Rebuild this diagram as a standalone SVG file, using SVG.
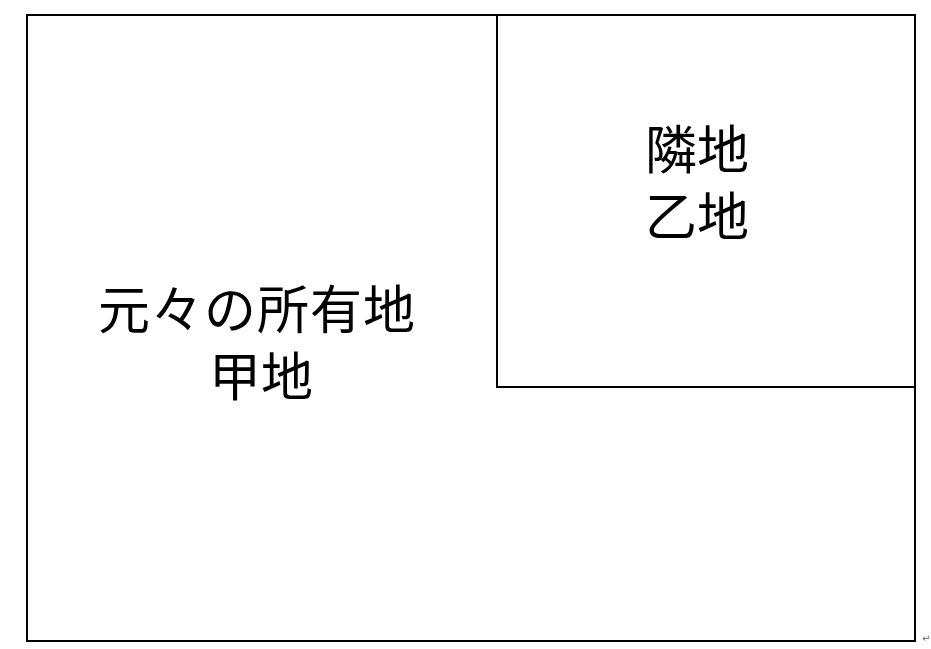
<svg xmlns="http://www.w3.org/2000/svg" width="931" height="649" viewBox="0 0 931 649">
<style>
.plot{fill:none;stroke:#000;stroke-width:2}
.lbl{font-family:"Noto Sans CJK JP","Noto Sans CJK SC",sans-serif;font-size:52px;fill:#000;text-anchor:middle}
.mark{font-family:"DejaVu Sans",sans-serif;font-size:10px;fill:#666}
</style>
<rect width="931" height="649" fill="#fff"/>
<g id="kouchi">
<rect class="plot" x="27" y="15" width="888" height="626"/>
<text class="lbl"><tspan x="257" y="329" letter-spacing="1">元々の所有地</tspan><tspan x="261" y="396">甲地</tspan></text>
</g>
<g id="otsuchi">
<rect class="plot" x="497" y="15" width="418" height="372"/>
<text class="lbl"><tspan x="697" y="169">隣地</tspan><tspan x="697" y="236">乙地</tspan></text>
</g>
<g id="connectors"></g>
<text class="mark" x="922" y="642">↵</text>
</svg>
